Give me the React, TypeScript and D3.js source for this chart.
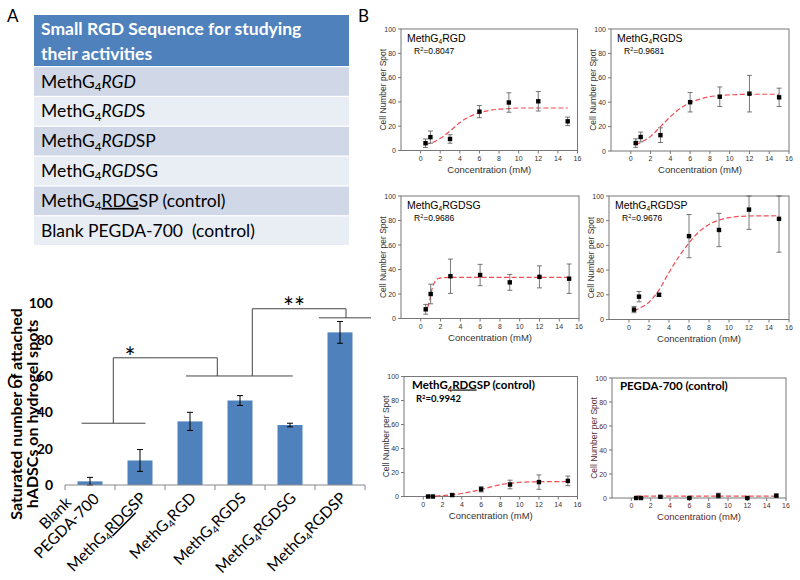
import React from 'react';
import * as d3 from 'd3';

// ---------- Panel A data ----------
const tableHeader = ['Small RGD Sequence for studying', 'their activities'];
const tableRows = ['MethG4RGD', 'MethG4RGDS', 'MethG4RGDSP', 'MethG4RGDSG', 'MethG4RDGSP (control)', 'Blank PEGDA-700  (control)'];

// ---------- Panel B data ----------
const conc = [0.5, 1, 3, 6, 9, 12, 15];
const xTicksB = [0, 2, 4, 6, 8, 10, 12, 14, 16];
const yTicksB = [0, 20, 40, 60, 80, 100];

const rgdMean = [6, 11, 9.5, 32, 39.5, 40.5, 24];
const rgdErr = [3.5, 5, 3.5, 5, 8, 8, 3.5];
const rgdsMean = [6.5, 11.5, 13, 40, 44.5, 47, 44];
const rgdsErr = [3.5, 4, 6, 8, 8, 15, 7.5];
const rgdsgMean = [7.5, 20, 34.5, 35.5, 29.5, 34, 32.5];
const rgdsgErr = [4, 8, 14, 8.7, 6.5, 9, 12];
const rgdspMean = [8, 18.5, 20, 67.5, 72.5, 89, 81.5];
const rgdspErr = [2.5, 4.2, 1.2, 17.5, 13.5, 16, 27];
const rdgspMean = [0, 0, 1.2, 6, 10, 12, 13];
const rdgspErr = [0.5, 0.5, 1, 2.2, 3.6, 6, 4];
const pegdaMean = [0, 0, 1, 0, 2, 0, 2];
const pegdaErr = [0.3, 0.3, 0.5, 0.3, 2, 0.3, 1];

const fitConc = [0.5, 1, 2, 3, 4, 5, 6, 7, 8, 9, 10, 12, 15];
const rgdFit = [5, 6, 10, 16, 23, 28, 31, 33, 34, 34.5, 35, 35, 35];
const rgdsFit = [5, 7, 12, 20, 28, 35, 39.5, 42.5, 44.5, 45.5, 46, 46.5, 46.5];
const rgdsgFitConc = [0.7, 0.9, 1.1, 1.3, 1.5, 1.8, 2.2, 3, 15];
const rgdsgFit = [9, 15, 23, 28, 31, 32.8, 33.3, 33.5, 33.5];
const rgdspFit = [7, 9, 14, 24, 38, 51, 62, 71, 77, 80.5, 82.5, 83.8, 84];
const rdgspFit = [0, 0.2, 0.8, 1.5, 2.5, 4, 5.8, 8, 9.8, 11, 11.8, 12.3, 12.5];
const pegdaFitConc = [0.5, 15];
const pegdaFit = [1.5, 1.5];

const titlesB = ['MethG4RGD', 'MethG4RGDS', 'MethG4RGDSG', 'MethG4RGDSP', 'MethG4RDGSP (control)', 'PEGDA-700 (control)'];
const r2B = ['0.8047', '0.9681', '0.9686', '0.9676', '0.9942', ''];

// ---------- Panel C data ----------
const cCategories = ['Blank|PEGDA-700', 'MethG4RDGSP', 'MethG4RGD', 'MethG4RGDS', 'MethG4RGDSG', 'MethG4RGDSP'];
const cMeans = [2, 13.5, 35, 46.5, 33, 84];
const cErrs = [2.2, 6, 5, 2.7, 1, 6];
const cTicks = [0, 20, 40, 60, 80, 100];
const cYLabel = ['Saturated number of attached', 'hADSCs on hydrogel spots'];

const ARIAL = '"Liberation Sans", Arial, sans-serif';
const CAL = 'Lato, "Open Sans", sans-serif';

function seqSpans(label: string, opts: { italic?: boolean; sub: number; dy: number }) {
  if (!label.startsWith('MethG4')) return [<tspan key="a">{label}</tspan>];
  const rest = label.slice(6);
  const core = rest.slice(0, 3);
  const tail = rest.slice(3);
  const coreProps: any = core === 'RDG' ? { textDecoration: 'underline' } : opts.italic ? { fontStyle: 'italic' } : {};
  const spans = [
    <tspan key="m">MethG</tspan>,
    <tspan key="s" fontSize={opts.sub} dy={opts.dy}>4</tspan>,
    <tspan key="c" dy={-opts.dy} {...coreProps}>{core}</tspan>,
  ];
  if (tail) spans.push(<tspan key="t">{tail}</tspan>);
  return spans;
}

type Box = { l: number; r: number; t: number; b: number };

function SubPlot(props: {
  box: Box; title: string; r2: string; means: number[]; errs: number[];
  fitX: number[]; fitY: number[]; bold?: boolean; color?: string;
}) {
  const { box, title, r2, means, errs, fitX, fitY, bold, color = '#333' } = props;
  const x = d3.scaleLinear().domain([-2, 16]).range([box.l, box.r]);
  const y = d3.scaleLinear().domain([0, 100]).range([box.b, box.t]);
  const clampY = (v: number) => y(Math.max(0, Math.min(100, v)));
  const line = d3.line<number>().x((_, i) => x(fitX[i])).y((d) => y(d)).curve(d3.curveMonotoneX);
  const midY = (box.t + box.b) / 2;
  const midX = (box.l + box.r) / 2;
  return (
    <g>
      <rect x={box.l} y={box.t} width={box.r - box.l} height={box.b - box.t} fill="none" stroke="#777" strokeWidth={1} />
      {yTicksB.map((t) => (
        <g key={'y' + t}>
          <line x1={box.l - 3} x2={box.l} y1={y(t)} y2={y(t)} stroke="#777" />
          <text x={box.l - 5} y={y(t) + 2.5} fontSize={7} fontFamily={ARIAL} fill={color} textAnchor="end">{t}</text>
        </g>
      ))}
      {xTicksB.map((t) => (
        <g key={'x' + t}>
          <line x1={x(t)} x2={x(t)} y1={box.b} y2={box.b + 3} stroke="#777" />
          <text x={x(t)} y={box.b + 10} fontSize={7} fontFamily={ARIAL} fill={color} textAnchor="middle">{t}</text>
        </g>
      ))}
      <g transform={`translate(${box.l - 15},${midY}) rotate(-90)`}>
        <text x={0} y={0} fontSize={8.5} fontFamily={ARIAL} fill={color} textAnchor="middle">Cell Number per Spot</text>
      </g>
      <text x={midX} y={box.b + 22} fontSize={9.5} fontFamily={ARIAL} fill={color} textAnchor="middle">Concentration (mM)</text>
      <path d={line(fitY) || ''} fill="none" stroke="#ee4d55" strokeWidth={1.2} strokeDasharray="5,2.5" />
      {means.map((m, i) => {
        const cx = x(conc[i]);
        const y1 = clampY(m + errs[i]);
        const y2 = clampY(m - errs[i]);
        return (
          <g key={'p' + i}>
            <line x1={cx} x2={cx} y1={y1} y2={y2} stroke="#555" strokeWidth={0.8} />
            <line x1={cx - 2.5} x2={cx + 2.5} y1={y1} y2={y1} stroke="#555" strokeWidth={0.8} />
            <line x1={cx - 2.5} x2={cx + 2.5} y1={y2} y2={y2} stroke="#555" strokeWidth={0.8} />
            <rect x={cx - 2.2} y={y(m) - 2.2} width={4.4} height={4.4} fill="#000" />
          </g>
        );
      })}
      {bold ? (
        <g fontFamily={CAL} fontWeight="bold" fill="#000">
          <text x={box.l + 8} y={box.t + 12} fontSize={11.5}>{seqSpans(title, { sub: 7.5, dy: 3 })}</text>
          {r2 && (
            <text x={box.l + 12} y={box.t + 25} fontSize={9.5}>
              R<tspan fontSize={6} dy={-3}>2</tspan><tspan dy={3}>={r2}</tspan>
            </text>
          )}
        </g>
      ) : (
        <g fontFamily={ARIAL} fill="#000">
          <text x={box.l + 6} y={box.t + 12.5} fontSize={10.5}>{seqSpans(title, { sub: 6.5, dy: 2.5 })}</text>
          <text x={box.l + 13} y={box.t + 25} fontSize={8.5}>
            R<tspan fontSize={5.5} dy={-3}>2</tspan><tspan dy={3}>={r2}</tspan>
          </text>
        </g>
      )}
    </g>
  );
}

function PanelC() {
  const x = d3.scaleBand<string>().domain(cCategories).range([65, 365]).paddingInner(0.5).paddingOuter(0.25);
  const y = d3.scaleLinear().domain([0, 100]).range([485, 303.3]);
  const step = x.step();
  const bounds = d3.range(cCategories.length + 1).map((i) => 65 + i * step);
  const cxOf = (c: string) => (x(c) as number) + x.bandwidth() / 2;
  const stroke = '#444';
  return (
    <g>
      <text x={7} y={388} fontSize={17} fontFamily={CAL}>C</text>
      {cYLabel.map((lab, i) => (
        <g key={lab} transform={`translate(${22 + i * 16},414) rotate(-90)`}>
          <text x={0} y={0} fontFamily={CAL} fontWeight="bold" fontSize={16} fill="#000" textAnchor="middle">{lab}</text>
        </g>
      ))}
      {cTicks.map((t) => (
        <text key={t} x={53} y={y(t) + 5} fontSize={14} fontWeight="bold" fontFamily={CAL} textAnchor="end">{t}</text>
      ))}
      {cCategories.map((c, i) => {
        const bx = x(c) as number;
        const cx = cxOf(c);
        const top = y(cMeans[i] + cErrs[i]);
        const bot = y(Math.max(0, cMeans[i] - cErrs[i]));
        return (
          <g key={c}>
            <rect x={bx} y={y(cMeans[i])} width={x.bandwidth()} height={y(0) - y(cMeans[i])} fill="#4f81bd" />
            <line x1={cx} x2={cx} y1={top} y2={bot} stroke="#000" strokeWidth={1} />
            <line x1={cx - 3} x2={cx + 3} y1={top} y2={top} stroke="#000" strokeWidth={1} />
            <line x1={cx - 3} x2={cx + 3} y1={bot} y2={bot} stroke="#000" strokeWidth={1} />
          </g>
        );
      })}
      <line x1={65} x2={365} y1={y(0)} y2={y(0)} stroke="#888" strokeWidth={1} />
      {bounds.map((b, i) => (
        <line key={i} x1={b} x2={b} y1={y(0)} y2={y(0) + 5} stroke="#888" strokeWidth={1} />
      ))}
      {cCategories.map((c) => {
        const cx = cxOf(c);
        if (c.includes('|')) {
          const [a, b] = c.split('|');
          return (
            <g key={'l' + c} transform={`translate(${cx + 10},500) rotate(-45)`} fontSize={15.5} fontFamily={CAL} textAnchor="end">
              <text x={-22} y={-17}>{a}</text>
              <text x={0} y={0}>{b}</text>
            </g>
          );
        }
        return (
          <g key={'l' + c} transform={`translate(${cx + 7},499) rotate(-45)`}>
            <text x={0} y={0} fontSize={15.5} fontFamily={CAL} textAnchor="end">
              {seqSpans(c, { sub: 10, dy: 3 })}
            </text>
          </g>
        );
      })}
      {/* significance brackets */}
      <g stroke={stroke} strokeWidth={1} fill="none">
        <line x1={81.5} x2={145.5} y1={y(34)} y2={y(34)} />
        <line x1={113.3} x2={113.3} y1={y(34)} y2={y(70)} />
        <line x1={113.3} x2={217.3} y1={y(70)} y2={y(70)} />
        <line x1={186} x2={292.7} y1={y(60)} y2={y(60)} />
        <line x1={217.3} x2={217.3} y1={y(60)} y2={y(70)} />
        <line x1={252.3} x2={252.3} y1={y(60)} y2={y(97)} />
        <line x1={252.3} x2={346} y1={y(97)} y2={y(97)} />
        <line x1={346} x2={346} y1={y(97)} y2={y(92)} />
        <line x1={319} x2={371} y1={y(92)} y2={y(92)} />
      </g>
      <text x={130} y={y(70) + 9} fontSize={26} fontFamily={CAL} textAnchor="middle">*</text>
      <text x={294} y={y(97) + 8} fontSize={26} fontFamily={CAL} textAnchor="middle">**</text>
    </g>
  );
}

function PanelA() {
  const rowH = 29.83;
  return (
    <g>
      <text x={7} y={22} fontSize={17} fontFamily={CAL}>A</text>
      <rect x={34} y={15} width={315} height={51} fill="#4f81bd" />
      <g fontFamily={CAL} fontWeight="bold" fontSize={17.5} fill="#fff">
        <text x={41} y={35}>{tableHeader[0]}</text>
        <text x={41} y={60}>{tableHeader[1]}</text>
      </g>
      {tableRows.map((r, i) => {
        const y0 = 66 + i * rowH;
        return (
          <g key={r}>
            <rect x={34} y={y0 + 1.2} width={315} height={rowH - 1.2} fill={i % 2 === 0 ? '#d0d8e8' : '#e9edf4'} />
            <text x={41} y={y0 + 21.5} fontSize={17.5} fontFamily={CAL} fill="#000" style={{ whiteSpace: 'pre' }}>
              {seqSpans(r, { italic: true, sub: 11.5, dy: 3.5 })}
            </text>
          </g>
        );
      })}
    </g>
  );
}

export default function App() {
  const boxes: Box[] = [
    { l: 401, r: 577.5, t: 29, b: 150.5 },
    { l: 611, r: 789, t: 29, b: 151 },
    { l: 401, r: 579, t: 196, b: 318.5 },
    { l: 609, r: 789, t: 196, b: 319.5 },
    { l: 404, r: 577.5, t: 376.5, b: 496.5 },
    { l: 612, r: 786, t: 378, b: 498 },
  ];
  const meansB = [rgdMean, rgdsMean, rgdsgMean, rgdspMean, rdgspMean, pegdaMean];
  const errsB = [rgdErr, rgdsErr, rgdsgErr, rgdspErr, rdgspErr, pegdaErr];
  const fitXs = [fitConc, fitConc, rgdsgFitConc, fitConc, fitConc, pegdaFitConc];
  const fitYs = [rgdFit, rgdsFit, rgdsgFit, rgdspFit, rdgspFit, pegdaFit];
  return (
    <svg width={800} height={580} style={{ position: 'absolute', left: 0, top: 0, background: '#fff' }}>
      <rect width={800} height={580} fill="#fff" />
      <PanelA />
      <text x={358} y={22} fontSize={17} fontFamily={CAL}>B</text>
      {boxes.map((b, i) => (
        <SubPlot key={i} box={b} title={titlesB[i]} r2={r2B[i]} means={meansB[i]} errs={errsB[i]}
          fitX={fitXs[i]} fitY={fitYs[i]} bold={i >= 4} color={i === 5 ? '#5a2a2a' : '#333'} />
      ))}
      <PanelC />
    </svg>
  );
}
